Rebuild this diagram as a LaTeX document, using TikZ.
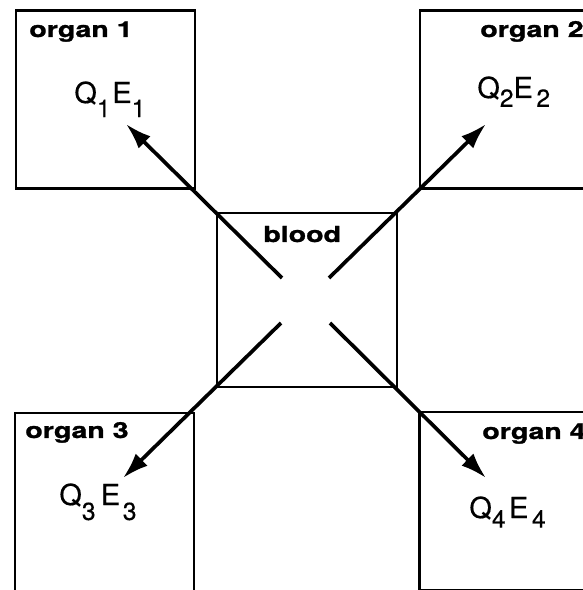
\documentclass[tikz,border=0pt]{standalone}
\usepackage{fontspec}
\usepackage{tikz}
\usetikzlibrary{arrows.meta}
\newfontfamily\heros[FakeStretch=1.3,BoldFeatures={FakeBold=1.2}]{TeX Gyre Heros}
\newfontfamily\herosq[FakeBold=0.4]{TeX Gyre Heros}
% lowered index, optional drop
\newcommand{\lowidx}[2][5pt]{\raisebox{-#1}{\fontsize{14}{16}\selectfont #2}}

\begin{document}
\begin{tikzpicture}[
  >={Latex[length=5.2mm,width=3.4mm]},
  organ/.style={draw, line width=1.5pt, minimum width=3.58cm, minimum height=3.56cm, inner sep=0pt},
  pool/.style={draw, line width=1.5pt, minimum width=3.6cm, minimum height=3.48cm, inner sep=0pt},
  tag/.style={anchor=base west, inner sep=0pt, font=\heros\fontsize{12.5}{14}\selectfont\bfseries},
  flux/.style={anchor=base west, inner sep=0pt, font=\herosq\fontsize{16.5}{18}\selectfont},
  arr/.style={->, line width=2.1pt}
]
\useasboundingbox (0,0) rectangle (11.66,11.8);
\clip (0,0) rectangle (11.66,11.8);

\node[organ] (O1) at (2.11,9.81) {};
\node[organ] (O2) at (10.19,9.81) {};
\node[organ] (O3) at (2.09,1.76) {};
\node[organ] (O4) at (10.18,1.78) {};
\node[pool] (B) at (6.14,5.80) {};

\node[tag] (L1) at (0.58,11.06) {organ 1};
\node[tag] (L2) at (9.60,11.06) {organ 2};
\node[tag] (L3) at (0.50,3.04) {organ 3};
\node[tag] (L4) at (9.64,3.02) {organ 4};
\node[tag] (LB) at (5.26,6.96) {blood};

\node[flux] (Q1) at (1.48,9.74) {Q\lowidx[8pt]{1}\hspace{1pt}E\lowidx[8pt]{1}};
\node[flux] (Q2) at (9.54,9.84) {Q\lowidx{2}E\hspace{2pt}\lowidx{2}};
\node[flux] (Q3) at (1.18,1.70) {Q\lowidx[8.5pt]{3}\hspace{3pt}E\hspace{1.5pt}\lowidx[8.5pt]{3}};
\node[flux] (Q4) at (9.38,1.44) {Q\lowidx[5.5pt]{4}\hspace{2pt}E\hspace{2pt}\lowidx[5.5pt]{4}};

% arrow ends inside the blood box
\coordinate (c1) at (5.64,6.24);
\coordinate (c2) at (6.58,6.24);
\coordinate (c3) at (5.62,5.34);
\coordinate (c4) at (6.60,5.34);
% arrow tips near the labels
\coordinate (t1) at (2.52,9.32);
\coordinate (t2) at (9.72,9.32);
\coordinate (t3) at (2.46,2.24);
\coordinate (t4) at (9.72,2.24);

\draw[arr] (c1) -- (t1);
\draw[arr] (c2) -- (t2);
\draw[arr] (c3) -- (t3);
\draw[arr] (c4) -- (t4);
\end{tikzpicture}
\end{document}
